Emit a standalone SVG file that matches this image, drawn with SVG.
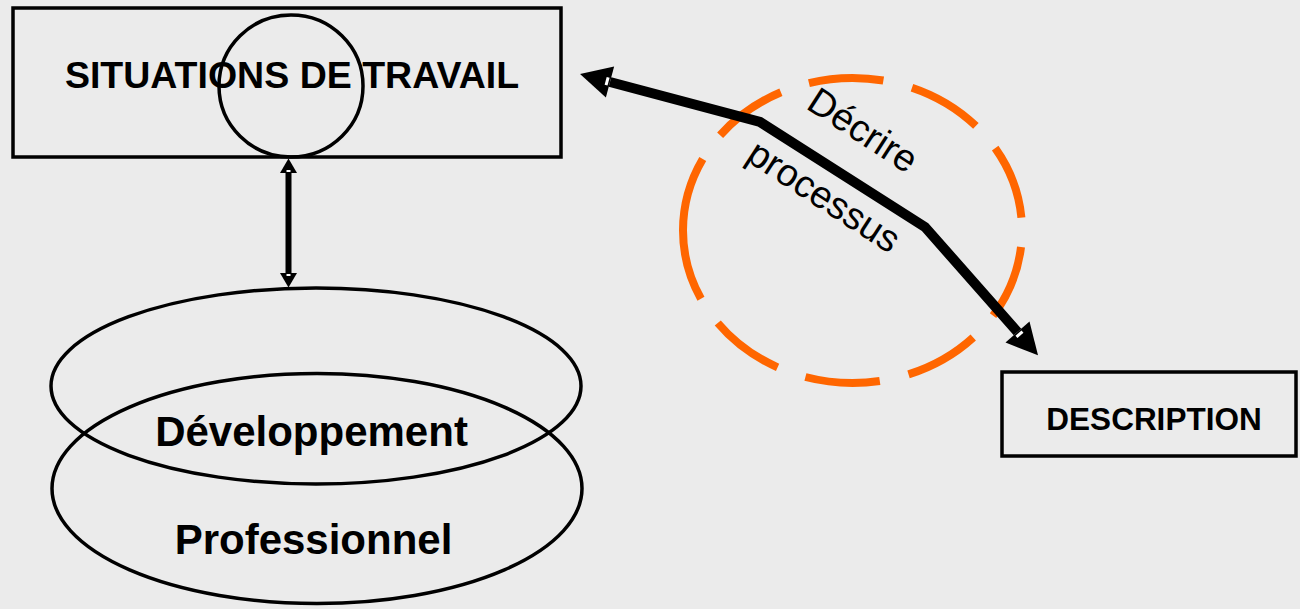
<svg xmlns="http://www.w3.org/2000/svg" width="1300" height="609" viewBox="0 0 1300 609">
  <style>
    .box { fill: none; stroke: #000; stroke-width: 3.5; }
    .outline { fill: none; stroke: #000; stroke-width: 3.5; }
    .bold { font-family: "Liberation Sans", Arial, sans-serif; font-weight: bold; fill: #000; text-anchor: middle; }
    .label { font-family: "Liberation Sans", Arial, sans-serif; fill: #000; text-anchor: middle; }
    .link-thick { fill: none; stroke: #000; stroke-width: 10; stroke-linejoin: miter; }
    .link-thin { fill: none; stroke: #000; stroke-width: 6; }
  </style>
  <defs>
    <!-- large head for the process arrow; base sits at the path end -->
    <marker id="headBig" markerUnits="userSpaceOnUse" viewBox="-1 -17 34 34" markerWidth="34" markerHeight="34" refX="0" refY="0" orient="auto-start-reverse">
      <polygon points="0,-16 31,0 0,16" fill="#000"/>
      <rect x="1.5" y="-4" width="3" height="8" fill="#fff"/>
    </marker>
    <!-- small head for the vertical double arrow -->
    <marker id="headSmall" markerUnits="userSpaceOnUse" viewBox="-1 -10 17 20" markerWidth="17" markerHeight="20" refX="0" refY="0" orient="auto-start-reverse">
      <polygon points="0,-8.5 14.5,0 0,8.5" fill="#000"/>
      <rect x="1" y="-2" width="2" height="4" fill="#fff"/>
    </marker>
  </defs>

  <rect width="1300" height="609" fill="#ebebeb"/>

  <g id="situations">
    <rect class="box" x="13" y="8" width="548" height="149"/>
    <text class="bold" x="292" y="88" font-size="37.5">SITUATIONS DE TRAVAIL</text>
    <ellipse class="outline" cx="291" cy="86" rx="72" ry="71"/>
  </g>

  <g id="developpement">
    <ellipse class="outline" cx="316" cy="386" rx="265" ry="98"/>
    <ellipse class="outline" cx="317" cy="488.5" rx="265" ry="115"/>
    <text class="bold" x="311.5" y="446" font-size="42">Développement</text>
    <text class="bold" x="313.5" y="554" font-size="42">Professionnel</text>
  </g>

  <g id="description">
    <rect class="box" x="1002" y="372" width="294" height="84"/>
    <text class="bold" x="1154" y="430" font-size="31.5">DESCRIPTION</text>
  </g>

  <g id="decrire-processus">
    <!-- dashed ring, path starts on the left and runs clockwise -->
    <path d="M683,230.5 A169.5,152.5 0 0 1 1022,230.5 A169.5,152.5 0 0 1 683,230.5 Z" fill="none" stroke="#ff6600" stroke-width="8" stroke-dasharray="75 29.5"/>
  </g>

  <g id="connectors">
    <path class="link-thin" d="M288.5,173 L288.5,273" marker-start="url(#headSmall)" marker-end="url(#headSmall)"/>
    <path class="link-thick" d="M610,82 L760,122 L925,227 L1017.5,332" marker-start="url(#headBig)" marker-end="url(#headBig)"/>
  </g>

  <g id="process-labels">
    <text class="label" font-size="38" transform="translate(856,141) rotate(33)">Décrire</text>
    <text class="label" font-size="38" transform="translate(817,207) rotate(33)">processus</text>
  </g>
</svg>
